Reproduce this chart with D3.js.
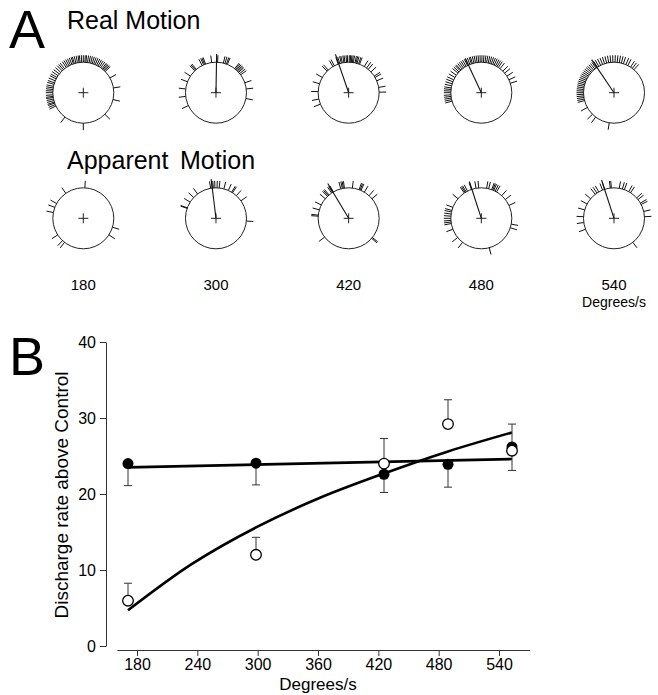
<!DOCTYPE html>
<html><head><meta charset="utf-8">
<script src="https://cdn.jsdelivr.net/npm/d3@7"></script>
<style>
body{margin:0;background:#fff}
svg{display:block;font-family:"Liberation Sans",Arial,sans-serif}
</style>
</head><body>
<svg id="fig" width="658" height="695"></svg>
<script>
// ---- Panel A: spike direction plots (compass degrees, 0 = up, clockwise) ----
const speeds = [180, 300, 420, 480, 540];

const realSpikes = [
  [244,247,250,252,255,258,261,263,266,270,273,276,279,282,286,289,293,297,300,304,308,312,316,319,322,326,329,332,335,338,341,343,346,349,352,354,357,0,3,5,8,11,14,17,20,23,26,29,32,35,38,40,42,44,46,61,81,103,135,180,217],
  [245,263,277,291,303,316,318,320,333,336,338,340,352,3,14,17,20,22,38,40,42,44,46,48,51,54,71,83,101],
  [248,258,272,287,300,315,318,329,332,340,343,346,348,351,353,356,358,1,3,5,7,9,12,14,16,19,21,31,36,40,47,57,60,67,80,89],
  [254,257,260,263,266,270,273,276,279,283,287,291,295,300,305,310,313,316,318,321,324,327,330,333,335,338,341,343,346,349,352,355,358,1,4,7,10,13,16,19,22,25,28,31,34,38,45,50,57,65,72],
  [255,258,261,264,267,270,273,276,279,282,285,288,291,294,297,300,303,306,309,312,315,318,321,324,327,330,334,338,342,346,350,354,358,2,6,10,14,18,23,27,33,37,41,241,225,217,189]
];
const apparentSpikes = [
  [3,325,299,291,281,237,223,218,107,123],
  [289,290,302,313,323,350,353,355,358,2,6,15,24,31,33,42,55,95],
  [274,276,286,296,310,316,318,320,326,328,330,345,348,350,352,7,20,22,24,31,42,50,129,131,232],
  [249,260,263,266,270,274,278,282,285,291,310,326,328,330,333,341,350,355,10,14,20,22,24,27,30,42,52,65,101,108,165,218,231],
  [249,262,273,286,298,310,322,326,330,338,342,353,355,10,16,20,29,33,48,52,60,63,77,87,142]
];
// mean vector direction and length (length as a multiple of the circle radius)
const realVectorAngle = [null, 1, 341, 335, 326];
const realVectorLength = [0, 1.27, 1.33, 1.24, 1.31];
const apparentVectorAngle = [null, 353, 329, 342, 342];
const apparentVectorLength = [0, 1.3, 1.33, 1.27, 1.32];

// ---- Panel B: discharge rate above control ----
const realMean = [24.0, 24.05, 22.6, 23.9, 26.2];
const realSem = [2.9, 2.85, 2.4, 3.0, 3.1];
const apparentMean = [5.96, 12.0, 24.0, 29.2, 25.7];
const apparentSem = [2.3, 2.3, 3.3, 3.2, 3.5];
const realFitX = [180, 540];
const realFit = [23.5, 24.6];
const apparentFitX = [180, 240, 300, 360, 420, 480, 540];
const apparentFit = [4.7, 10.8, 15.6, 19.5, 22.7, 25.6, 28.1];
const xTicks = [180, 240, 300, 360, 420, 480, 540];
const yTicks = [0, 10, 20, 30, 40];

const svg = d3.select("#fig");

// panel letters
svg.append("text").attr("x", 9).attr("y", 48).attr("font-size", 54).text("A");
svg.append("text").attr("x", 9).attr("y", 375).attr("font-size", 54).text("B");

// row titles
svg.append("text").attr("x", 67).attr("y", 29).attr("font-size", 25).text("Real Motion");
const appTitle = svg.append("text").attr("y", 169).attr("font-size", 25);
appTitle.append("tspan").attr("x", 67).text("Apparent");
appTitle.append("tspan").attr("x", 180).text("Motion");

const colX = d3.scalePoint().domain(speeds).range([83.3, 614]);
const R = 30.5, spikeLen = 7, crossArm = 5;
const toRad = d3.scaleLinear().domain([0, 360]).range([0, 2 * Math.PI]);
const px = (deg, r) => r * Math.sin(toRad(deg));
const py = (deg, r) => -r * Math.cos(toRad(deg));

function drawRow(cy, spikes, vAng, vLen) {
  speeds.forEach((s, i) => {
    const g = svg.append("g").attr("transform", `translate(${colX(s)},${cy})`);
    g.append("circle").attr("r", R).attr("fill", "none").attr("stroke", "#222").attr("stroke-width", 1);
    g.append("line").attr("x1", -crossArm).attr("x2", crossArm).attr("stroke", "#222");
    g.append("line").attr("y1", -crossArm).attr("y2", crossArm).attr("stroke", "#222");
    g.selectAll("line.spike").data(spikes[i]).join("line").attr("class", "spike")
      .attr("x1", d => px(d, R)).attr("y1", d => py(d, R))
      .attr("x2", d => px(d, R + spikeLen)).attr("y2", d => py(d, R + spikeLen))
      .attr("stroke", "#111").attr("stroke-width", 1);
    if (vAng[i] !== null) {
      g.append("line").attr("x1", 0).attr("y1", 0)
        .attr("x2", px(vAng[i], R * vLen[i])).attr("y2", py(vAng[i], R * vLen[i]))
        .attr("stroke", "#111").attr("stroke-width", 1.1);
    }
  });
}
drawRow(92.7, realSpikes, realVectorAngle, realVectorLength);
drawRow(218.3, apparentSpikes, apparentVectorAngle, apparentVectorLength);

speeds.forEach(s => {
  svg.append("text").attr("x", colX(s)).attr("y", 290).attr("text-anchor", "middle")
    .attr("font-size", 15).text(s);
});
svg.append("text").attr("x", colX(540)).attr("y", 307).attr("text-anchor", "middle")
  .attr("font-size", 14).text("Degrees/s");

// ---- Panel B ----
// data positions and the labelled axis are set slightly apart in this figure
const x = d3.scaleLinear().domain([180, 540]).range([128, 512]);
const xAxisScale = d3.scaleLinear().domain([180, 540]).range([137, 499]);
const y = d3.scaleLinear().domain([0, 40]).range([646, 342]);

const yAxis = svg.append("g").attr("transform", "translate(106,0)")
  .call(d3.axisLeft(y).tickValues(yTicks).tickSize(6).tickSizeOuter(0).tickPadding(4));
const xAxis = svg.append("g").attr("transform", "translate(0,650)")
  .call(d3.axisBottom(xAxisScale).tickValues(xTicks).tickSize(6).tickSizeOuter(0).tickPadding(3));
xAxis.select(".domain").attr("d", `M${x(170)},0.5H${x(557)}`);
[yAxis, xAxis].forEach(a => {
  a.selectAll("text").attr("font-size", 16).attr("fill", "#000").attr("font-family", "Liberation Sans, Arial, sans-serif");
  a.selectAll("line,path").attr("stroke", "#333");
});

svg.append("text").attr("x", 318).attr("y", 690).attr("text-anchor", "middle")
  .attr("font-size", 17).text("Degrees/s");
svg.append("text").attr("transform", "translate(68,495) rotate(-90)").attr("text-anchor", "middle")
  .attr("font-size", 19).text("Discharge rate above Control");

// fitted lines
svg.append("path").datum(realFitX.map((v, i) => [v, realFit[i]]))
  .attr("d", d3.line().x(d => x(d[0])).y(d => y(d[1])))
  .attr("fill", "none").attr("stroke", "#000").attr("stroke-width", 2.6);
svg.append("path").datum(apparentFitX.map((v, i) => [v, apparentFit[i]]))
  .attr("d", d3.line().curve(d3.curveCatmullRom).x(d => x(d[0])).y(d => y(d[1])))
  .attr("fill", "none").attr("stroke", "#000").attr("stroke-width", 2.6);

const cap = 4;
// error bars: real motion downward, apparent motion upward
function errorBars(means, sems, dir) {
  speeds.forEach((s, i) => {
    const y0 = y(means[i]), y1 = y(means[i] + dir * sems[i]);
    svg.append("line").attr("x1", x(s)).attr("x2", x(s)).attr("y1", y0).attr("y2", y1)
      .attr("stroke", "#333").attr("stroke-width", 1);
    svg.append("line").attr("x1", x(s) - cap).attr("x2", x(s) + cap).attr("y1", y1).attr("y2", y1)
      .attr("stroke", "#333").attr("stroke-width", 1);
  });
}
errorBars(realMean, realSem, -1);
errorBars(apparentMean, apparentSem, 1);

svg.selectAll("circle.real").data(speeds).join("circle").attr("class", "real")
  .attr("cx", d => x(d)).attr("cy", (d, i) => y(realMean[i])).attr("r", 5.5)
  .attr("fill", "#000");
svg.selectAll("circle.app").data(speeds).join("circle").attr("class", "app")
  .attr("cx", d => x(d)).attr("cy", (d, i) => y(apparentMean[i])).attr("r", 5.3)
  .attr("fill", "#fff").attr("stroke", "#000").attr("stroke-width", 1.3);
</script>
</body></html>
